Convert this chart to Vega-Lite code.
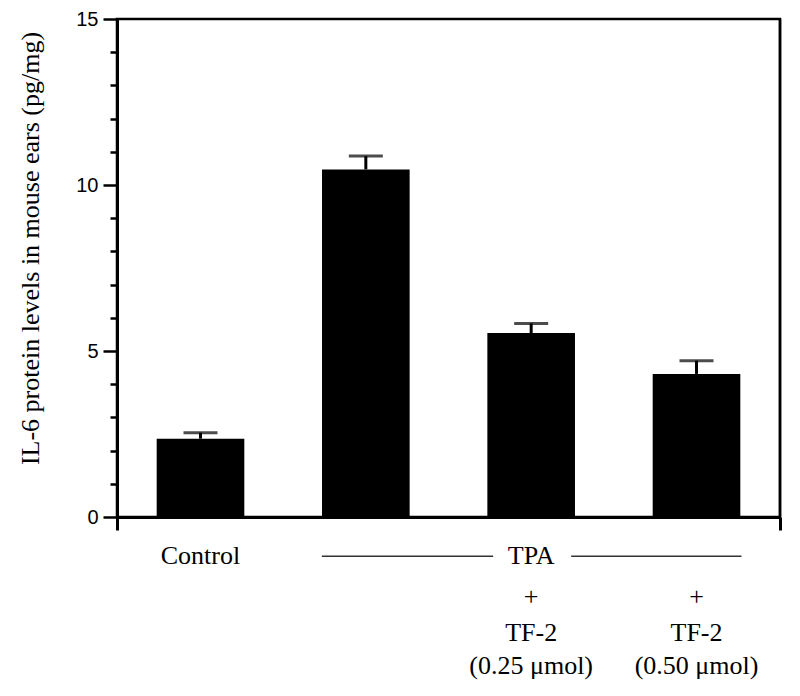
{
  "$schema": "https://vega.github.io/schema/vega-lite/v6.json",
  "width": 663,
  "height": 498,
  "autosize": {"type": "none"},
  "padding": {"left": 117, "top": 19, "right": 20, "bottom": 179},
  "background": "white",
  "config": {
    "view": {"stroke": "black", "strokeWidth": 2.5},
    "axis": {"domainColor": "black", "tickColor": "black", "labelColor": "black", "titleColor": "black", "grid": false}
  },
  "datasets": {
    "bars": [
      {"group": "Control", "mean": 2.36, "upper": 2.54, "label1": "Control", "plus": "", "agent": "", "dose": ""},
      {"group": "TPA", "mean": 10.47, "upper": 10.87, "label1": "", "plus": "", "agent": "", "dose": ""},
      {"group": "TPA + TF-2 (0.25 μmol)", "mean": 5.54, "upper": 5.83, "label1": "TPA", "plus": "+", "agent": "TF-2", "dose": "(0.25 μmol)"},
      {"group": "TPA + TF-2 (0.50 μmol)", "mean": 4.31, "upper": 4.71, "label1": "", "plus": "+", "agent": "TF-2", "dose": "(0.50 μmol)"}
    ]
  },
  "layer": [
    {
      "data": {"name": "bars"},
      "encoding": {
        "x": {
          "field": "group", "type": "nominal", "sort": null,
          "scale": {"paddingInner": 0.47, "paddingOuter": 0.24},
          "axis": {"orient": "bottom", "labels": false, "ticks": false, "domain": true, "domainWidth": 3, "title": null}
        }
      },
      "layer": [
        {
          "mark": {"type": "bar", "color": "black"},
          "encoding": {
            "y": {
              "field": "mean", "type": "quantitative",
              "scale": {"domain": [0, 15], "nice": false},
              "axis": {
                "orient": "left", "values": [0, 5, 10, 15], "tickSize": 14, "tickWidth": 2.5,
                "domainWidth": 3, "labelFont": "Liberation Sans", "labelFontSize": 20, "labelPadding": 5,
                "title": "IL-6 protein levels in mouse ears (pg/mg)",
                "titleFont": "Liberation Serif", "titleFontSize": 26, "titleFontWeight": "normal",
                "titleX": -87, "titleY": 229, "titleAngle": -90, "titleAlign": "center", "titleBaseline": "middle"
              }
            }
          }
        },
        {
          "mark": {"type": "rule", "strokeWidth": 3, "color": "black"},
          "encoding": {
            "y": {"field": "mean", "type": "quantitative"},
            "y2": {"field": "upper"}
          }
        },
        {
          "mark": {"type": "tick", "orient": "horizontal", "size": 34, "thickness": 3, "color": "black"},
          "encoding": {"y": {"field": "upper", "type": "quantitative"}}
        },
        {
          "mark": {"type": "text", "font": "Liberation Serif", "fontSize": 26, "baseline": "middle", "color": "black"},
          "encoding": {"y": {"datum": -1.18}, "text": {"field": "label1"}}
        },
        {
          "mark": {"type": "text", "font": "Liberation Serif", "fontSize": 26, "baseline": "middle", "color": "black"},
          "encoding": {"y": {"datum": -2.42}, "text": {"field": "plus"}}
        },
        {
          "mark": {"type": "text", "font": "Liberation Serif", "fontSize": 26, "baseline": "middle", "color": "black"},
          "encoding": {"y": {"datum": -3.48}, "text": {"field": "agent"}}
        },
        {
          "mark": {"type": "text", "font": "Liberation Serif", "fontSize": 26, "baseline": "middle", "color": "black"},
          "encoding": {"y": {"datum": -4.5}, "text": {"field": "dose"}}
        },
        {
          "transform": [{"filter": "datum.group == 'TPA'"}],
          "mark": {"type": "rule", "strokeWidth": 1.5, "color": "#333", "xOffset": -44, "x2Offset": -38},
          "encoding": {
            "x": {"datum": "TPA"},
            "x2": {"datum": "TPA + TF-2 (0.25 μmol)"},
            "y": {"datum": -1.18}
          }
        },
        {
          "transform": [{"filter": "datum.group == 'TPA'"}],
          "mark": {"type": "rule", "strokeWidth": 1.5, "color": "#333", "xOffset": 40, "x2Offset": 45},
          "encoding": {
            "x": {"datum": "TPA + TF-2 (0.25 μmol)"},
            "x2": {"datum": "TPA + TF-2 (0.50 μmol)"},
            "y": {"datum": -1.18}
          }
        }
      ]
    },
    {
      "data": {"values": [{}]},
      "mark": {"type": "rule", "strokeWidth": 2.5, "color": "black"},
      "encoding": {
        "x": {
          "datum": 1, "type": "quantitative",
          "scale": {"domain": [0, 1], "nice": false, "zero": false},
          "axis": {"orient": "bottom", "values": [0, 1], "tickSize": 13, "tickWidth": 3, "labels": false, "domain": false, "title": null}
        },
        "y": {
          "datum": 0, "type": "quantitative",
          "scale": {"domain": [0, 15], "nice": false},
          "axis": {"orient": "left", "values": [1, 2, 3, 4, 6, 7, 8, 9, 11, 12, 13, 14], "tickSize": 7, "tickWidth": 2.5, "labels": false, "domain": false, "title": null}
        },
        "y2": {"datum": 15}
      }
    }
  ],
  "resolve": {
    "scale": {"x": "independent", "y": "independent"},
    "axis": {"x": "independent", "y": "independent"}
  }
}
